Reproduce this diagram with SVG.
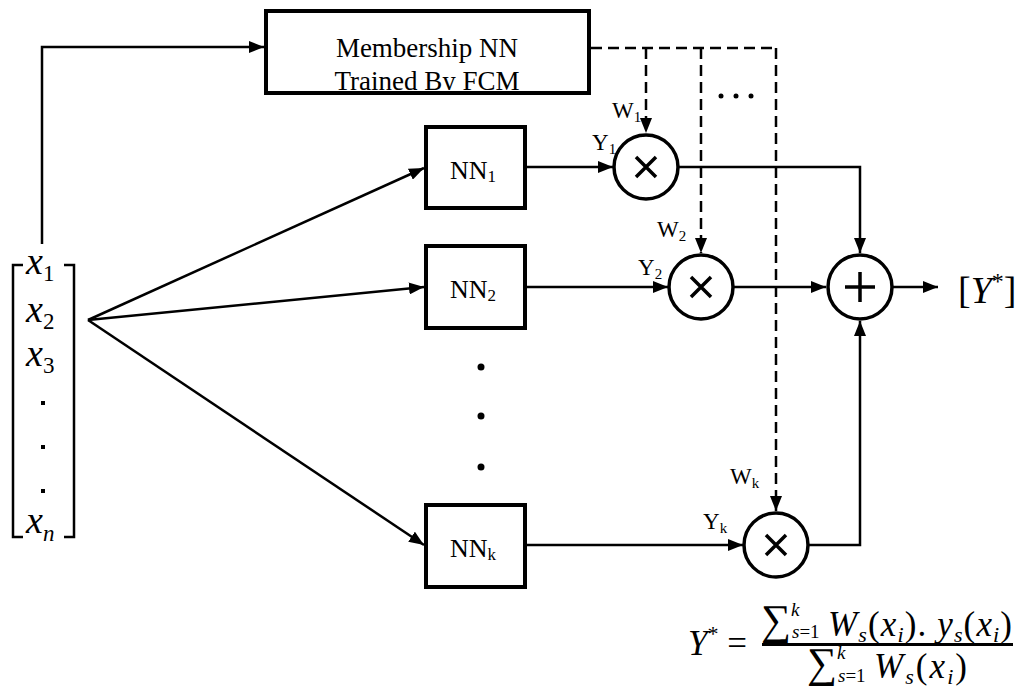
<svg xmlns="http://www.w3.org/2000/svg" width="1021" height="690" viewBox="0 0 1021 690">
  <defs>
    <marker id="arrow" viewBox="0 0 15 12" markerWidth="15" markerHeight="12" refX="15" refY="6" orient="auto" markerUnits="userSpaceOnUse">
      <path d="M0,0 L15,6 L0,12 z" fill="#000"/>
    </marker>
    <!-- inner area of the membership box; text is cut at its lower edge -->
    <clipPath id="membership-clip">
      <rect x="268" y="13" width="319" height="77"/>
    </clipPath>
    <style>
      .box { fill: none; stroke: #000; stroke-width: 4; }
      .node { fill: #fff; stroke: #000; stroke-width: 3.5; }
      .sym { fill: none; stroke: #000; stroke-width: 3.5; stroke-linecap: butt; }
      .wire { fill: none; stroke: #000; stroke-width: 2.5; }
      .dash { fill: none; stroke: #000; stroke-width: 2.5; stroke-dasharray: 11 6; }
      .arr { marker-end: url(#arrow); }
      .tnr { font-family: "Liberation Serif", "Times New Roman", serif; fill: #000; }
      .lbl { font-family: "Liberation Serif", "Times New Roman", serif; font-size: 23px; fill: #000; }
      .sub { font-size: 15px; }
      .math { font-family: "Liberation Serif", "DejaVu Serif", serif; fill: #000; }
      .it { font-style: italic; }
      .dot { fill: #000; }
    </style>
  </defs>

  <rect x="0" y="0" width="1021" height="690" fill="#fff"/>

  <!-- connectors -->
  <g id="connectors">
    <!-- input vector to membership network -->
    <path class="wire arr" d="M42,244 V47 H264"/>
    <!-- fan-out from input vector to expert networks -->
    <path class="wire arr" d="M88,320 L424,168"/>
    <path class="wire arr" d="M88,320 L424,287"/>
    <path class="wire arr" d="M88,320 L424,545"/>
    <!-- expert outputs to multipliers -->
    <path class="wire arr" d="M526,167 H613"/>
    <path class="wire arr" d="M526,287 H668"/>
    <path class="wire arr" d="M526,545 H743"/>
    <!-- membership weights (dashed) -->
    <path class="dash" d="M591,48 H776"/>
    <path class="dash arr" d="M646,48 V133"/>
    <path class="dash arr" d="M701,48 V253"/>
    <path class="dash arr" d="M776,48 V511"/>
    <!-- products to summation -->
    <path class="wire arr" d="M679,167 H860 V253"/>
    <path class="wire arr" d="M734,287 H826"/>
    <path class="wire arr" d="M809,545 H860 V321"/>
    <!-- output -->
    <path class="wire arr" d="M893,287 H938"/>
  </g>

  <!-- input vector -->
  <g id="input-vector">
    <path class="wire" d="M23,265 H13 V537 H23"/>
    <path class="wire" d="M64,265 H74 V537 H64"/>
    <text class="math" font-size="38" x="26" y="274"><tspan class="it">x</tspan><tspan font-size="23" dy="7">1</tspan></text>
    <text class="math" font-size="38" x="26" y="322"><tspan class="it">x</tspan><tspan font-size="23" dy="7">2</tspan></text>
    <text class="math" font-size="38" x="26" y="366"><tspan class="it">x</tspan><tspan font-size="23" dy="7">3</tspan></text>
    <rect class="dot" x="41" y="401" width="4" height="4"/>
    <rect class="dot" x="41" y="445" width="4" height="4"/>
    <rect class="dot" x="41" y="489" width="4" height="4"/>
    <text class="math" font-size="38" x="26" y="533"><tspan class="it">x</tspan><tspan class="it" font-size="23" dy="8">n</tspan></text>
  </g>

  <!-- membership network -->
  <g id="membership-nn">
    <g clip-path="url(#membership-clip)">
      <text class="tnr" font-size="27" x="427" y="57" text-anchor="middle">Membership NN</text>
      <text class="tnr" font-size="27" x="427" y="90" text-anchor="middle">Trained By FCM</text>
    </g>
    <rect class="box" x="266" y="11" width="323" height="82"/>
  </g>

  <!-- expert networks -->
  <g id="nn-1">
    <rect class="box" x="426" y="127" width="99" height="81" fill="#fff"/>
    <text class="tnr" font-size="26" x="450" y="179">NN<tspan font-size="17" dy="3">1</tspan></text>
  </g>
  <g id="nn-2">
    <rect class="box" x="426" y="246" width="99" height="82" fill="#fff"/>
    <text class="tnr" font-size="26" x="450" y="298">NN<tspan font-size="17" dy="3">2</tspan></text>
  </g>
  <g id="nn-dots">
    <circle class="dot" cx="481" cy="367" r="3.5"/>
    <circle class="dot" cx="481" cy="416" r="3.5"/>
    <circle class="dot" cx="481" cy="467" r="3.5"/>
  </g>
  <g id="nn-k">
    <rect class="box" x="426" y="505" width="99" height="82" fill="#fff"/>
    <text class="tnr" font-size="26" x="450" y="557">NN<tspan font-size="17" dy="3">k</tspan></text>
  </g>

  <!-- multipliers -->
  <g id="mul-1">
    <circle class="node" cx="646" cy="167" r="32"/>
    <path class="sym" d="M636,157 L656,177 M656,157 L636,177"/>
  </g>
  <g id="mul-2">
    <circle class="node" cx="701" cy="287" r="32"/>
    <path class="sym" d="M691,277 L711,297 M711,277 L691,297"/>
  </g>
  <g id="mul-k">
    <circle class="node" cx="776" cy="545" r="32"/>
    <path class="sym" d="M766,535 L786,555 M786,535 L766,555"/>
  </g>

  <!-- summation -->
  <g id="sum">
    <circle class="node" cx="860" cy="287" r="32"/>
    <path class="sym" d="M845,287 H875 M860,272 V302" stroke-width="4"/>
  </g>

  <!-- ellipsis between weight lines -->
  <g id="weight-dots">
    <circle class="dot" cx="721" cy="96" r="2.5"/>
    <circle class="dot" cx="736" cy="96" r="2.5"/>
    <circle class="dot" cx="751" cy="96" r="2.5"/>
  </g>

  <!-- weight / output labels -->
  <g id="labels">
    <text class="lbl" x="612" y="118">W<tspan class="sub" dy="4">1</tspan></text>
    <text class="lbl" x="592" y="150">Y<tspan class="sub" dy="4">1</tspan></text>
    <text class="lbl" x="657" y="237">W<tspan class="sub" dy="4">2</tspan></text>
    <text class="lbl" x="638" y="275">Y<tspan class="sub" dy="4">2</tspan></text>
    <text class="lbl" x="730" y="484">W<tspan class="sub" dy="4">k</tspan></text>
    <text class="lbl" x="703" y="529">Y<tspan class="sub" dy="4">k</tspan></text>
  </g>

  <!-- output symbol -->
  <g id="output">
    <text class="math" font-size="38" x="958" y="303">[<tspan class="it">Y</tspan><tspan font-size="24" dy="-14">*</tspan><tspan dy="14">]</tspan></text>
  </g>

  <!-- weighted-average formula -->
  <g id="formula">
    <text class="math" font-size="35" x="688" y="655"><tspan class="it">Y</tspan><tspan font-size="22" dy="-14">*</tspan><tspan dy="14"> =</tspan></text>
    <!-- numerator -->
    <text class="math" font-size="42" x="761" y="634">∑</text>
    <text class="math it" font-size="19" x="791" y="616">k</text>
    <text class="math" font-size="19" x="792" y="638"><tspan class="it">s</tspan>=1</text>
    <text class="math" font-size="35" x="828" y="636" textLength="184" lengthAdjust="spacing"><tspan class="it">W</tspan><tspan class="it" font-size="22" dy="6">s</tspan><tspan dy="-6">(</tspan><tspan class="it">x</tspan><tspan class="it" font-size="22" dy="6">i</tspan><tspan dy="-6">). </tspan><tspan class="it">y</tspan><tspan class="it" font-size="22" dy="6">s</tspan><tspan dy="-6">(</tspan><tspan class="it">x</tspan><tspan class="it" font-size="22" dy="6">i</tspan><tspan dy="-6">)</tspan></text>
    <rect x="762" y="643" width="251" height="3" fill="#000"/>
    <!-- denominator -->
    <text class="math" font-size="42" x="807" y="677">∑</text>
    <text class="math it" font-size="19" x="837" y="659">k</text>
    <text class="math" font-size="19" x="838" y="682"><tspan class="it">s</tspan>=1</text>
    <text class="math" font-size="35" x="874" y="678" textLength="93" lengthAdjust="spacing"><tspan class="it">W</tspan><tspan class="it" font-size="22" dy="6">s</tspan><tspan dy="-6">(</tspan><tspan class="it">x</tspan><tspan class="it" font-size="22" dy="6">i</tspan><tspan dy="-6">)</tspan></text>
  </g>
</svg>
